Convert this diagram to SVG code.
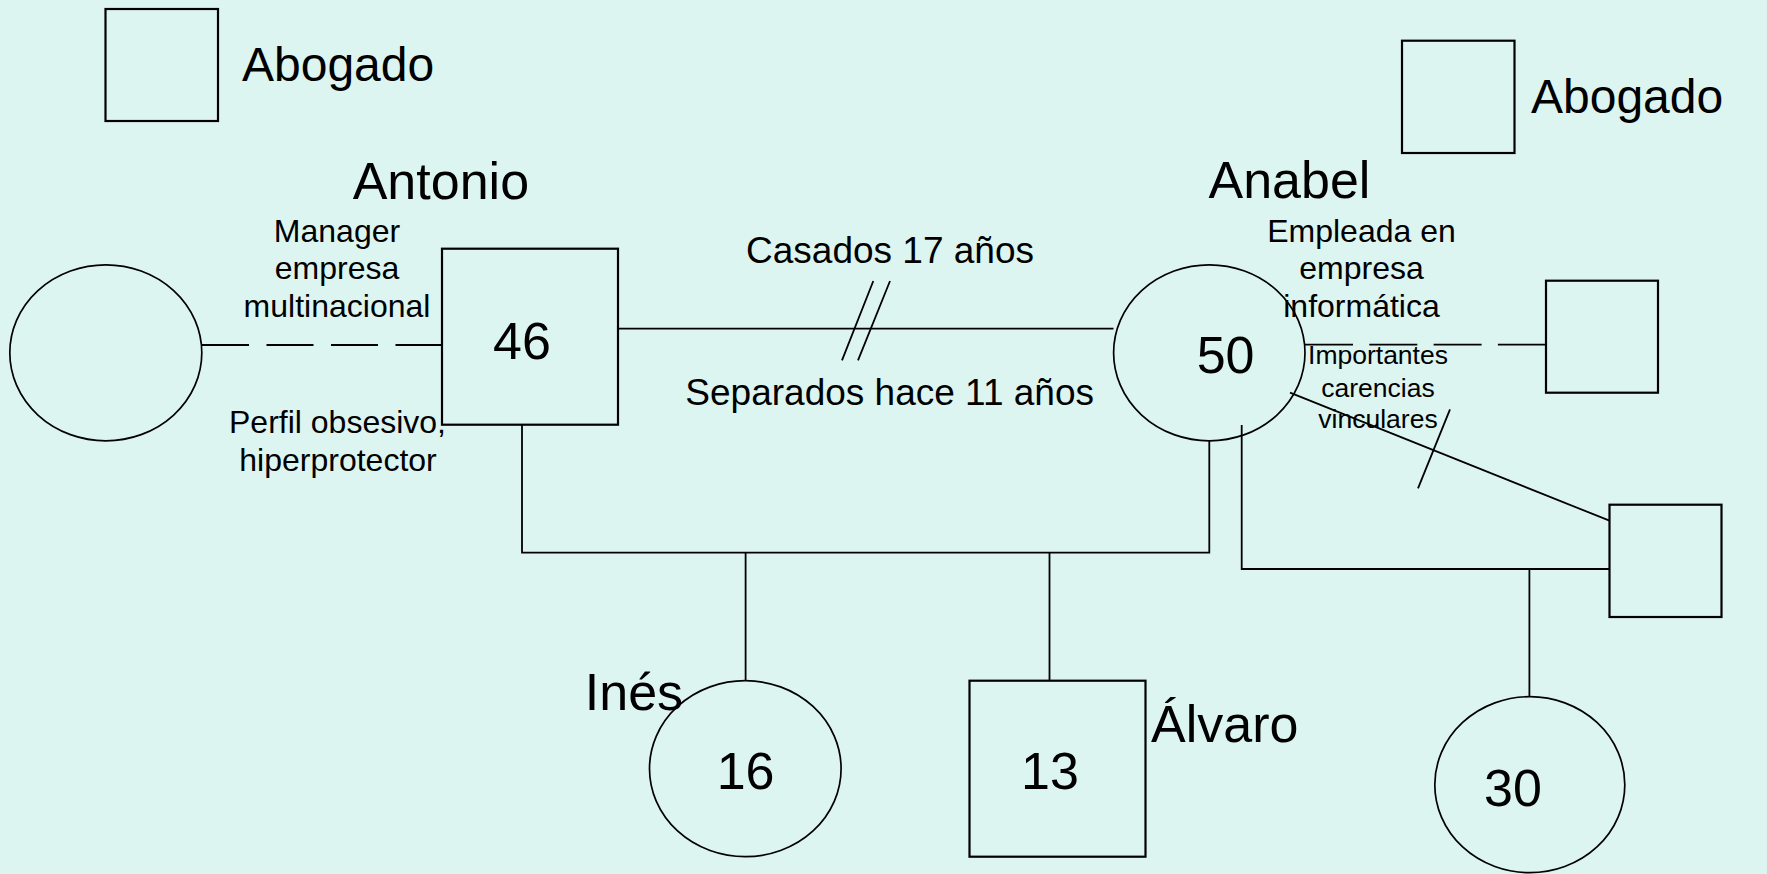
<svg xmlns="http://www.w3.org/2000/svg" width="1767" height="874" viewBox="0 0 1767 874">
<style>
  .bg{fill:#DDF5F1}
  .shape{fill:none;stroke:#000;stroke-width:2.2}
  .ell{fill:none;stroke:#000;stroke-width:1.7}
  .ln{fill:none;stroke:#000;stroke-width:1.8}
  .dash{fill:none;stroke:#000;stroke-width:1.8;stroke-dasharray:48 16.3}
  text{font-family:"Liberation Sans",Arial,sans-serif;fill:#000}
  .big{font-size:52px}
  .ab{font-size:48px}
  .mid{font-size:37px;text-anchor:middle}
  .sm{font-size:32px;text-anchor:middle}
  .xs{font-size:26.5px;text-anchor:middle}
  .num{font-size:52px;text-anchor:middle}
</style>
<rect class="bg" x="0" y="0" width="1767" height="874"/>

<g id="connectors">
  <path class="ln" d="M202 345 H442" stroke-dasharray="47 17.5"/>
  <path class="ln" d="M618 328.7 H1113.5"/>
  <path class="ln" d="M873.3 281 L842 360.3 M890 281 L858 360.3"/>
  <path class="ln" d="M522 424.7 V552.7 H1209.3 V440.8"/>
  <path class="ln" d="M745.6 552.7 V680.7"/>
  <path class="ln" d="M1049.5 552.7 V680.7"/>
  <path class="dash" d="M1305 344.7 H1546"/>
  <path class="ln" d="M1241.7 425 V569 H1609.5"/>
  <path class="ln" d="M1529.4 569 V696.7"/>
  <path class="ln" d="M1290 392.7 L1609.5 520.7"/>
  <path class="ln" d="M1450 409.3 L1418 488.3"/>
</g>

<g id="abogado1">
  <rect class="shape" x="105.5" y="9" width="112.5" height="112"/>
  <text class="ab" x="242" y="81">Abogado</text>
</g>

<g id="abogado2">
  <rect class="shape" x="1402" y="40.7" width="112.5" height="112.3"/>
  <text class="ab" x="1531" y="112.7">Abogado</text>
</g>

<g id="antonio-partner">
  <ellipse class="ell" cx="105.8" cy="352.8" rx="96" ry="88"/>
</g>

<g id="antonio">
  <rect class="shape" x="442" y="248.7" width="176" height="176"/>
  <text class="num" x="522" y="358.5">46</text>
  <text class="big" x="352.7" y="198.5">Antonio</text>
  <text class="sm" x="337" y="241.5">Manager</text>
  <text class="sm" x="337" y="279">empresa</text>
  <text class="sm" x="337" y="316.5">multinacional</text>
  <text class="sm" x="337.5" y="433.3">Perfil obsesivo,</text>
  <text class="sm" x="338" y="470.7">hiperprotector</text>
</g>

<g id="marriage-labels">
  <text class="mid" x="890" y="262.7">Casados 17 años</text>
  <text class="mid" x="889.7" y="405">Separados hace 11 años</text>
</g>

<g id="anabel">
  <ellipse class="ell" cx="1209.3" cy="352.8" rx="95.7" ry="88"/>
  <text class="num" x="1225.6" y="373.3">50</text>
  <text class="big" x="1208.5" y="198.3">Anabel</text>
  <text class="sm" x="1361.5" y="241.5">Empleada en</text>
  <text class="sm" x="1361.5" y="279">empresa</text>
  <text class="sm" x="1361.5" y="316.5">informática</text>
  <text class="xs" x="1378" y="364.3">Importantes</text>
  <text class="xs" x="1378" y="396.7">carencias</text>
  <text class="xs" x="1378" y="428.3">vinculares</text>
</g>

<g id="anabel-partner1">
  <rect class="shape" x="1546" y="280.7" width="112" height="112"/>
</g>

<g id="anabel-partner2">
  <rect class="shape" x="1609.5" y="504.7" width="112" height="112.3"/>
</g>

<g id="ines">
  <ellipse class="ell" cx="745.3" cy="768.7" rx="95.8" ry="88"/>
  <text class="num" x="745.6" y="789.3">16</text>
  <text class="big" x="584.8" y="710">Inés</text>
</g>

<g id="alvaro">
  <rect class="shape" x="969.5" y="680.7" width="176" height="176"/>
  <text class="num" x="1050" y="789.3">13</text>
  <text class="big" x="1151" y="741.7">Álvaro</text>
</g>

<g id="daughter30">
  <ellipse class="ell" cx="1529.8" cy="784.7" rx="95" ry="88"/>
  <text class="num" x="1513" y="806">30</text>
</g>
</svg>
